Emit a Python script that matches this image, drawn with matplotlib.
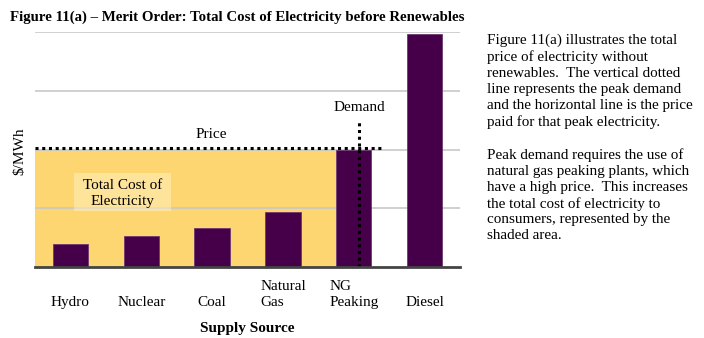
import matplotlib.pyplot as plt
from matplotlib.patches import Rectangle

plt.rcParams['font.family'] = ['Liberation Serif', 'DejaVu Serif']

# supply stack, cheapest to most expensive ($/MWh, relative units)
sources = ["Hydro", "Nuclear", "Coal", "Natural\nGas", "NG\nPeaking", "Diesel"]
cost = [0.39, 0.53, 0.66, 0.93, 2.0, 3.97]
price = 2.0          # clearing price at peak demand
demand_x = 4.08      # position of peak demand on the supply axis
demand_top = 2.46

purple = "#46004a"
yellow = "#fdd672"

fig = plt.figure(figsize=(7.04, 3.38), dpi=100)
ax = fig.add_axes([35/704, 1 - 267/338, 425/704, 235/338])

x = list(range(len(sources)))

# shaded total cost area under the price line
ax.fill_between([-0.5, 3.75], 0, price, color=yellow, zorder=1, linewidth=0)
ax.bar(x, cost, width=0.5, color=purple, edgecolor="#6e3a70", linewidth=0.6, zorder=3)

ax.plot([-0.5, 4.42], [price + 0.03, price + 0.03], color="black", linestyle=(0, (1, 1.2)),
        linewidth=2.2, zorder=4)
ax.plot([demand_x, demand_x], [0, demand_top], color="black", linestyle=(0, (1, 1.2)),
        linewidth=2.2, zorder=4)

ax.text(1.99, price + 0.15, "Price", ha="center", va="bottom", fontsize=11)
ax.text(demand_x, demand_top + 0.15, "Demand", ha="center", va="bottom", fontsize=11)

# light label panel over the shaded area
ax.add_patch(Rectangle((0.05, 0.95), 1.37, 0.65, facecolor="#fff0c4", alpha=0.5,
                       edgecolor="none", zorder=5))
ax.text(0.735, 1.25, "Total Cost of\nElectricity", ha="center", va="center", fontsize=11,
        linespacing=1.3, zorder=6)

ax.set_xlim(-0.5, 5.5)
ax.set_ylim(0, 4)
ax.set_yticks([1, 2, 3, 4])
ax.set_yticklabels([])
ax.tick_params(axis="y", length=0)
ax.grid(axis="y", color="#c8c8c8", linewidth=1.2, zorder=0)
for s in ["top", "right", "left"]:
    ax.spines[s].set_visible(False)
ax.spines["bottom"].set_color("#444444")
ax.spines["bottom"].set_linewidth(2)
ax.spines["bottom"].set_zorder(7)

ax.set_xticks(x)
ax.set_xticklabels(sources, fontsize=11, va="bottom", multialignment="left", linespacing=1.32)
ax.tick_params(axis="x", length=0, pad=30.5)
ax.set_xlabel("Supply Source", fontsize=11, fontweight="bold")
ax.xaxis.set_label_coords(0.499, -0.234)
ax.set_ylabel("$/MWh", fontsize=11)
ax.yaxis.set_label_coords(-9/425, 0.494)

fig.text(10/704, 1 - 17/338, "Figure 11(a) \u2013 Merit Order: Total Cost of Electricity before Renewables",
         fontsize=10.75, fontweight="bold", va="center", ha="left")

note = ("Figure 11(a) illustrates the total\n"
        "price of electricity without\n"
        "renewables.  The vertical dotted\n"
        "line represents the peak demand\n"
        "and the horizontal line is the price\n"
        "paid for that peak electricity.\n"
        "\n"
        "Peak demand requires the use of\n"
        "natural gas peaking plants, which\n"
        "have a high price.  This increases\n"
        "the total cost of electricity to\n"
        "consumers, represented by the\n"
        "shaded area.")
fig.text(487/704, 1 - 34/338, note, fontsize=10.9, va="top", ha="left", linespacing=1.29)

fig.savefig("out.png", dpi=100)
